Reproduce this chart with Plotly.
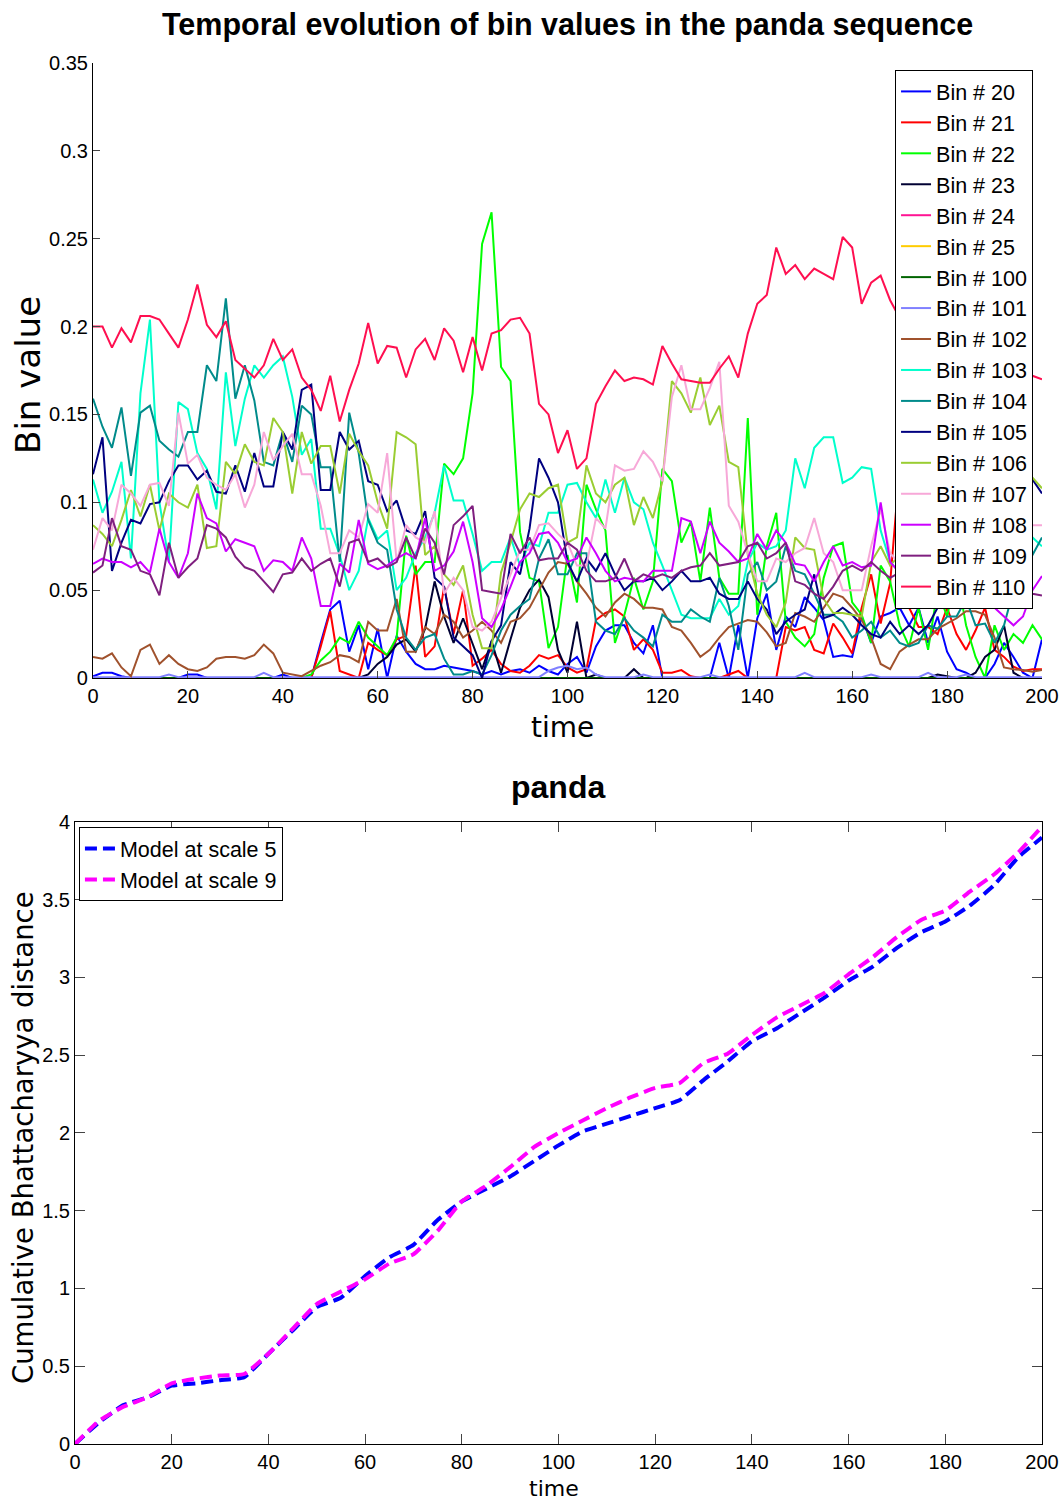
import plotly.graph_objects as go

# ---------------- data: top panel (bin values, sampled every 2 frames) ----------------
TIME = list(range(0, 201, 2))

BIN_LABELS = ["Bin # 20", "Bin # 21", "Bin # 22", "Bin # 23", "Bin # 24", "Bin # 25",
              "Bin # 100", "Bin # 101", "Bin # 102", "Bin # 103", "Bin # 104", "Bin # 105",
              "Bin # 106", "Bin # 107", "Bin # 108", "Bin # 109", "Bin # 110"]

bin_20 = [0.001, 0.003, 0.003, 0.001, 0, 0, 0, 0, 0, 0,
          0.002, 0.002, 0, 0, 0, 0, 0, 0, 0, 0,
          0.002, 0, 0, 0, 0.02, 0.039, 0.044, 0.015, 0.03, 0.005,
          0.028, 0.0, 0.024, 0.015, 0.008, 0.005, 0.005, 0.007, 0.006, 0.005,
          0.004, 0.002, 0.004, 0.002, 0.004, 0.005, 0.003, 0.007, 0.004, 0.002,
          0.008, 0.012, 0.003, 0.018, 0.027, 0.03, 0.03, 0.02, 0.014, 0.03,
          0.0, 0.0, 0.0, 0.0, 0.0, 0.0, 0.02, 0.0, 0.03, 0.0,
          0.034, 0.048, 0.016, 0.035, 0.029, 0.046, 0.04, 0.033, 0.012, 0.013,
          0.012, 0.035, 0.02, 0.035, 0.037, 0.04, 0.03, 0.04, 0.02, 0.035,
          0.015, 0.005, 0.003, 0.0, 0.0, 0.008, 0.02, 0.012, 0.003, 0.0,
          0.022]
bin_21 = [0, 0, 0, 0, 0, 0, 0, 0, 0, 0,
          0, 0, 0, 0, 0, 0, 0, 0, 0, 0,
          0, 0, 0, 0, 0.018, 0.038, 0.004, 0.002, 0.0, 0.02,
          0.016, 0.013, 0.022, 0.024, 0.064, 0.012, 0.018, 0.052, 0.025, 0.05,
          0.007, 0.011, 0.016, 0.008, 0.004, 0.003, 0.007, 0.013, 0.011, 0.013,
          0.006, 0.003, 0.005, 0.033, 0.037, 0.039, 0.035, 0.016, 0.022, 0.016,
          0.003, 0.003, 0.0045, 0.001, 0.0, 0.0, 0.0, 0.002, 0.004, 0.0,
          0.0, 0.0, 0.0, 0.029, 0.027, 0.029, 0.016, 0.014, 0.031, 0.023,
          0.014, 0.04, 0.059, 0.031, 0.054, 0.12, 0.04, 0.029, 0.029, 0.025,
          0.04, 0.025, 0.016, 0.027, 0.04, 0.016, 0.012, 0.0065, 0.004, 0.005,
          0.005]
bin_22 = [0, 0, 0, 0, 0, 0, 0, 0, 0, 0,
          0, 0, 0, 0, 0, 0, 0, 0, 0, 0,
          0, 0, 0, 0.002, 0.01, 0.015, 0.023, 0.02, 0.032, 0.023,
          0.018, 0.013, 0.023, 0.081, 0.059, 0.066, 0.066, 0.122, 0.116, 0.125,
          0.162, 0.247, 0.265, 0.177, 0.169, 0.083, 0.057, 0.055, 0.017, 0.029,
          0.07, 0.043, 0.11, 0.096, 0.084, 0.02, 0.036, 0.057, 0.039, 0.055,
          0.119, 0.112, 0.077, 0.089, 0.055, 0.097, 0.057, 0.048, 0.048, 0.148,
          0.036, 0.075, 0.094, 0.032, 0.023, 0.018, 0.025, 0.057, 0.075, 0.077,
          0.043, 0.036, 0.02, 0.064, 0.055, 0.03, 0.018, 0.04, 0.016, 0.05,
          0.035, 0.06, 0.03, 0.012, 0.0, 0.03, 0.016, 0.025, 0.02, 0.03,
          0.022]
bin_23 = [0, 0, 0, 0, 0, 0, 0, 0, 0, 0,
          0, 0, 0, 0, 0, 0, 0, 0, 0, 0,
          0, 0, 0, 0, 0, 0, 0, 0, 0, 0.002,
          0.008, 0.012, 0.019, 0.022, 0.015, 0.028, 0.055, 0.035, 0.02, 0.034,
          0.019, 0.005, 0.021, 0.003, 0.022, 0.04, 0.05, 0.056, 0.046, 0.016,
          0.003, 0.032, 0.0, 0.002, 0.0, 0.0, 0.0, 0.005, 0.0, 0.0,
          0, 0, 0, 0, 0, 0, 0, 0, 0, 0,
          0, 0, 0, 0, 0, 0, 0, 0, 0, 0,
          0, 0, 0, 0, 0, 0, 0, 0, 0, 0.002,
          0.001, 0.0, 0.0, 0.003, 0.012, 0.016, 0.03, 0.003, 0.0, 0.0,
          0.0]
bin_24 = [0, 0, 0, 0, 0, 0, 0, 0, 0, 0,
          0, 0, 0, 0, 0, 0, 0, 0, 0, 0,
          0, 0, 0, 0, 0, 0, 0, 0, 0, 0,
          0, 0, 0, 0, 0, 0, 0, 0, 0, 0,
          0, 0, 0, 0, 0, 0, 0, 0, 0, 0,
          0, 0, 0, 0, 0, 0, 0, 0, 0, 0,
          0, 0, 0, 0, 0, 0, 0, 0, 0, 0,
          0, 0, 0, 0, 0, 0, 0, 0, 0, 0,
          0, 0, 0, 0, 0, 0, 0, 0, 0, 0,
          0, 0, 0, 0, 0, 0, 0, 0, 0, 0,
          0]
bin_25 = [0, 0, 0, 0, 0, 0, 0, 0, 0, 0,
          0, 0, 0, 0, 0, 0, 0, 0, 0, 0,
          0, 0, 0, 0, 0, 0, 0, 0, 0, 0,
          0, 0, 0, 0, 0, 0, 0, 0, 0, 0,
          0, 0, 0, 0, 0, 0, 0, 0, 0, 0,
          0, 0, 0, 0, 0, 0, 0, 0, 0, 0,
          0, 0, 0, 0, 0, 0, 0, 0, 0, 0,
          0, 0, 0, 0, 0, 0, 0, 0, 0, 0,
          0, 0, 0, 0, 0, 0, 0, 0, 0, 0,
          0, 0, 0, 0, 0, 0, 0, 0, 0, 0,
          0]
bin_100 = [0, 0, 0, 0, 0, 0, 0, 0, 0, 0,
           0, 0, 0, 0, 0, 0, 0, 0, 0, 0,
           0, 0, 0, 0, 0, 0, 0, 0, 0, 0,
           0, 0, 0, 0, 0, 0, 0, 0, 0, 0,
           0, 0, 0, 0, 0, 0, 0, 0, 0, 0,
           0, 0, 0, 0, 0, 0, 0, 0, 0, 0,
           0, 0, 0, 0, 0, 0, 0, 0, 0, 0,
           0, 0, 0, 0, 0, 0, 0, 0, 0, 0,
           0, 0, 0, 0, 0, 0, 0, 0, 0, 0,
           0, 0, 0, 0, 0, 0, 0, 0, 0, 0,
           0]
bin_101 = [0.0005, 0.0005, 0.0005, 0.0005, 0.0005, 0.0005, 0.0005, 0.0005, 0.002, 0.0005,
           0.0005, 0.0005, 0.0005, 0.0005, 0.0005, 0.0005, 0.0005, 0.0005, 0.003, 0.0005,
           0.0005, 0.0005, 0.0005, 0.0005, 0.0005, 0.0005, 0.0005, 0.0005, 0.0005, 0.0005,
           0.0005, 0.0005, 0.0005, 0.0005, 0.0005, 0.0005, 0.0005, 0.0005, 0.0005, 0.0005,
           0.0005, 0.0005, 0.0005, 0.0005, 0.0005, 0.0005, 0.0005, 0.0005, 0.004, 0.006,
           0.007, 0.005, 0.006, 0.002, 0.0005, 0.0005, 0.0005, 0.0005, 0.002, 0.0005,
           0.0005, 0.0005, 0.0005, 0.0005, 0.0005, 0.002, 0.0005, 0.0005, 0.0005, 0.0005,
           0.0005, 0.0005, 0.0005, 0.0005, 0.0005, 0.003, 0.0005, 0.0005, 0.0005, 0.0005,
           0.0005, 0.0005, 0.002, 0.0005, 0.0005, 0.0005, 0.0005, 0.0005, 0.003, 0.0005,
           0.0005, 0.0005, 0.002, 0.0005, 0.0005, 0.0005, 0.0005, 0.0005, 0.0005, 0.0005,
           0.0005]
bin_102 = [0.012, 0.011, 0.014, 0.006, 0.001, 0.016, 0.019, 0.008, 0.013, 0.008,
           0.005, 0.004, 0.006, 0.011, 0.012, 0.012, 0.011, 0.013, 0.019, 0.014,
           0.003, 0.002, 0.001, 0.004, 0.007, 0.009, 0.013, 0.012, 0.009, 0.032,
           0.027, 0.027, 0.045, 0.015, 0.015, 0.029, 0.025, 0.036, 0.032, 0.023,
           0.027, 0.032, 0.027, 0.02, 0.032, 0.034, 0.04, 0.05, 0.06, 0.066,
           0.065, 0.055, 0.048, 0.04, 0.035, 0.043, 0.048, 0.045, 0.04, 0.04,
           0.039, 0.029, 0.027, 0.02, 0.012, 0.016, 0.023, 0.029, 0.031, 0.033,
           0.032, 0.026, 0.018, 0.02, 0.037, 0.035, 0.032, 0.04, 0.048, 0.046,
           0.04, 0.033, 0.023, 0.008, 0.005, 0.015, 0.019, 0.022, 0.022, 0.028,
           0.031, 0.034, 0.038, 0.038, 0.036, 0.023, 0.006, 0.005, 0.0045, 0.0035,
           0.0045]
bin_103 = [0.113, 0.094, 0.106, 0.123, 0.068, 0.162, 0.204, 0.1, 0.066, 0.157,
           0.153, 0.128, 0.119, 0.096, 0.174, 0.132, 0.159, 0.178, 0.171, 0.178,
           0.183, 0.16, 0.127, 0.136, 0.085, 0.085, 0.07, 0.05, 0.061, 0.091,
           0.079, 0.084, 0.05, 0.057, 0.071, 0.08, 0.094, 0.121, 0.101, 0.101,
           0.082, 0.061, 0.066, 0.066, 0.08, 0.064, 0.077, 0.075, 0.094, 0.094,
           0.11, 0.111, 0.1, 0.091, 0.113, 0.094, 0.114, 0.1, 0.096, 0.077,
           0.064, 0.05, 0.036, 0.034, 0.034, 0.034, 0.045, 0.036, 0.041, 0.066,
           0.077, 0.073, 0.075, 0.084, 0.125, 0.108, 0.131, 0.137, 0.137, 0.111,
           0.114, 0.12, 0.119, 0.084, 0.066, 0.06, 0.055, 0.05, 0.06, 0.055,
           0.06, 0.065, 0.07, 0.06, 0.065, 0.07, 0.075, 0.07, 0.075, 0.08,
           0.075]
bin_104 = [0.159, 0.143, 0.131, 0.154, 0.115, 0.151, 0.155, 0.135, 0.13, 0.126,
           0.14, 0.14, 0.178, 0.169, 0.216, 0.159, 0.178, 0.158, 0.123, 0.121,
           0.14, 0.123, 0.155, 0.15, 0.12, 0.12, 0.066, 0.151, 0.128, 0.09,
           0.077, 0.073, 0.039, 0.023, 0.016, 0.023, 0.025, 0.011, 0.002, 0.002,
           0.004, 0.002, 0.013, 0.027, 0.036, 0.041, 0.045, 0.068, 0.079, 0.059,
           0.059, 0.071, 0.071, 0.032, 0.027, 0.025, 0.034, 0.027, 0.023, 0.018,
           0.036, 0.032, 0.032, 0.039, 0.035, 0.032, 0.057, 0.041, 0.016, 0.059,
           0.066, 0.05, 0.055, 0.075, 0.061, 0.059, 0.048, 0.036, 0.036, 0.032,
           0.023, 0.027, 0.032, 0.023, 0.027, 0.02, 0.018, 0.02, 0.03, 0.028,
           0.035, 0.035, 0.045, 0.03, 0.031, 0.02, 0.03, 0.05, 0.06, 0.07,
           0.08]
bin_105 = [0.116, 0.137, 0.061, 0.077, 0.09, 0.088, 0.099, 0.1, 0.112, 0.121,
           0.121, 0.113, 0.118, 0.106, 0.105, 0.121, 0.106, 0.128, 0.109, 0.109,
           0.14, 0.13, 0.164, 0.167, 0.107, 0.107, 0.14, 0.13, 0.135, 0.112,
           0.11, 0.095, 0.101, 0.084, 0.082, 0.095, 0.057, 0.052, 0.023, 0.018,
           0.013, 0.0, 0.021, 0.03, 0.066, 0.059, 0.085, 0.125, 0.114, 0.1,
           0.066, 0.055, 0.068, 0.061, 0.071, 0.059, 0.05, 0.055, 0.055, 0.057,
           0.05, 0.055, 0.061, 0.055, 0.055, 0.057, 0.048, 0.045, 0.045, 0.055,
           0.045, 0.039, 0.025, 0.032, 0.036, 0.039, 0.059, 0.034, 0.036, 0.04,
           0.036, 0.03, 0.025, 0.023, 0.032, 0.025, 0.03, 0.025, 0.03, 0.04,
           0.05, 0.06, 0.07, 0.08, 0.09, 0.1, 0.11, 0.12, 0.118, 0.113,
           0.105]
bin_106 = [0.087, 0.082, 0.075, 0.09, 0.107, 0.092, 0.11, 0.084, 0.105, 0.1,
           0.097, 0.11, 0.074, 0.075, 0.123, 0.116, 0.133, 0.123, 0.121, 0.148,
           0.14, 0.105, 0.14, 0.122, 0.132, 0.132, 0.105, 0.139, 0.129, 0.121,
           0.1, 0.085, 0.14, 0.137, 0.133, 0.07, 0.075, 0.059, 0.053, 0.064,
           0.036, 0.017, 0.017, 0.06, 0.077, 0.096, 0.105, 0.103, 0.108, 0.11,
           0.077, 0.08, 0.121, 0.105, 0.1, 0.11, 0.114, 0.087, 0.103, 0.091,
           0.112, 0.169, 0.162, 0.151, 0.171, 0.144, 0.155, 0.123, 0.12, 0.07,
           0.048, 0.036, 0.029, 0.043, 0.08, 0.074, 0.073, 0.045, 0.037, 0.037,
           0.036, 0.035, 0.066, 0.075, 0.064, 0.07, 0.075, 0.08, 0.07, 0.075,
           0.08, 0.085, 0.09, 0.085, 0.09, 0.095, 0.1, 0.105, 0.11, 0.114,
           0.108]
bin_107 = [0.073, 0.091, 0.084, 0.11, 0.105, 0.098, 0.11, 0.111, 0.098, 0.151,
           0.122, 0.127, 0.114, 0.11, 0.107, 0.116, 0.097, 0.11, 0.14, 0.124,
           0.132, 0.139, 0.116, 0.116, 0.098, 0.071, 0.071, 0.084, 0.08, 0.099,
           0.094, 0.128, 0.066, 0.087, 0.08, 0.077, 0.095, 0.048, 0.057, 0.05,
           0.029, 0.027, 0.032, 0.045, 0.059, 0.073, 0.073, 0.087, 0.088, 0.082,
           0.077, 0.064, 0.064, 0.091, 0.085, 0.121, 0.118, 0.119, 0.129, 0.123,
           0.112, 0.16, 0.178, 0.153, 0.153, 0.165, 0.18, 0.098, 0.089, 0.071,
           0.055, 0.055, 0.068, 0.066, 0.071, 0.074, 0.091, 0.071, 0.066, 0.05,
           0.05, 0.05, 0.075, 0.096, 0.071, 0.065, 0.06, 0.055, 0.05, 0.05,
           0.045, 0.04, 0.045, 0.06, 0.07, 0.075, 0.08, 0.08, 0.085, 0.087,
           0.087]
bin_108 = [0.065, 0.068, 0.066, 0.066, 0.063, 0.066, 0.06, 0.085, 0.066, 0.057,
           0.071, 0.105, 0.091, 0.088, 0.072, 0.079, 0.077, 0.075, 0.061, 0.067,
           0.066, 0.061, 0.08, 0.068, 0.041, 0.041, 0.065, 0.06, 0.09, 0.065,
           0.062, 0.064, 0.068, 0.071, 0.068, 0.091, 0.061, 0.064, 0.072, 0.089,
           0.066, 0.034, 0.029, 0.039, 0.052, 0.066, 0.071, 0.082, 0.083, 0.077,
           0.066, 0.068, 0.08, 0.071, 0.061, 0.055, 0.057, 0.056, 0.055, 0.061,
           0.061, 0.061, 0.091, 0.089, 0.071, 0.089, 0.077, 0.072, 0.066, 0.068,
           0.082, 0.073, 0.084, 0.077, 0.065, 0.064, 0.055, 0.066, 0.075, 0.064,
           0.066, 0.063, 0.064, 0.1, 0.066, 0.06, 0.065, 0.06, 0.065, 0.055,
           0.06, 0.05, 0.055, 0.05, 0.045, 0.04, 0.035, 0.03, 0.035, 0.05,
           0.058]
bin_109 = [0.06, 0.064, 0.091, 0.075, 0.073, 0.061, 0.059, 0.047, 0.077, 0.057,
           0.063, 0.068, 0.087, 0.085, 0.08, 0.069, 0.063, 0.061, 0.055, 0.049,
           0.059, 0.06, 0.068, 0.061, 0.065, 0.068, 0.052, 0.077, 0.079, 0.066,
           0.068, 0.063, 0.066, 0.08, 0.068, 0.085, 0.077, 0.059, 0.087, 0.092,
           0.098, 0.05, 0.049, 0.048, 0.082, 0.071, 0.08, 0.067, 0.068, 0.068,
           0.077, 0.073, 0.061, 0.055, 0.055, 0.057, 0.068, 0.055, 0.059, 0.057,
           0.059, 0.057, 0.061, 0.063, 0.064, 0.071, 0.064, 0.065, 0.066, 0.075,
           0.077, 0.068, 0.071, 0.077, 0.055, 0.053, 0.048, 0.045, 0.052, 0.061,
           0.064, 0.061, 0.066, 0.061, 0.057, 0.06, 0.055, 0.06, 0.058, 0.055,
           0.06, 0.055, 0.052, 0.05, 0.055, 0.05, 0.048, 0.052, 0.05, 0.048,
           0.047]
bin_110 = [0.200, 0.200, 0.188, 0.199, 0.191, 0.206, 0.206, 0.204, 0.196, 0.188,
           0.204, 0.224, 0.201, 0.194, 0.203, 0.181, 0.176, 0.171, 0.178, 0.193,
           0.181, 0.187, 0.171, 0.164, 0.152, 0.172, 0.146, 0.164, 0.179, 0.202,
           0.179, 0.189, 0.188, 0.171, 0.187, 0.193, 0.181, 0.199, 0.192, 0.174,
           0.194, 0.175, 0.196, 0.198, 0.204, 0.205, 0.196, 0.156, 0.150, 0.128,
           0.141, 0.119, 0.125, 0.156, 0.166, 0.175, 0.169, 0.171, 0.170, 0.167,
           0.189, 0.179, 0.170, 0.169, 0.168, 0.168, 0.176, 0.183, 0.171, 0.196,
           0.213, 0.218, 0.245, 0.230, 0.235, 0.227, 0.233, 0.230, 0.227, 0.251,
           0.245, 0.213, 0.225, 0.229, 0.215, 0.205, 0.210, 0.200, 0.195, 0.200,
           0.190, 0.185, 0.190, 0.180, 0.185, 0.178, 0.182, 0.175, 0.178, 0.172,
           0.170]

BIN_SERIES = [bin_20, bin_21, bin_22, bin_23, bin_24, bin_25, bin_100, bin_101, bin_102,
              bin_103, bin_104, bin_105, bin_106, bin_107, bin_108, bin_109, bin_110]

# ---------------- data: bottom panel (cumulative distance, every 5 frames) ----------------
TIME_CUM = list(range(0, 201, 5))
CUM_LABELS = ["Model at scale 5", "Model at scale 9"]
cum_scale5 = [0.0, 0.14, 0.25, 0.30, 0.375, 0.39, 0.41, 0.43, 0.58, 0.73,
              0.88, 0.94, 1.08, 1.20, 1.28, 1.44, 1.56, 1.64, 1.72, 1.82,
              1.92, 2.01, 2.06, 2.11, 2.16, 2.21, 2.34, 2.46, 2.59, 2.67,
              2.77, 2.87, 2.98, 3.07, 3.19, 3.29, 3.36, 3.46, 3.59, 3.77,
              3.90]
cum_scale9 = [0.0, 0.15, 0.24, 0.30, 0.39, 0.42, 0.44, 0.45, 0.58, 0.74,
              0.90, 0.98, 1.06, 1.16, 1.22, 1.37, 1.56, 1.66, 1.78, 1.91,
              2.00, 2.08, 2.16, 2.23, 2.29, 2.32, 2.45, 2.51, 2.63, 2.74,
              2.82, 2.90, 3.02, 3.13, 3.26, 3.37, 3.43, 3.55, 3.66, 3.80,
              3.97]

# ---------------- styles ----------------
BIN_COLORS = ["#0000FF", "#FF0000", "#00FF00", "#000033", "#FF1493", "#FFCC00",
              "#006400", "#8080FF", "#A0522D", "#00FFCC", "#008B8B", "#000080",
              "#9ACD32", "#F7A8D8", "#CC00FF", "#7F1F7F", "#FF0F50"]
CUM_COLORS = ["#0000FF", "#FF00FF"]
FONT = "Liberation Sans, Arial, sans-serif"
WIDE = "DejaVu Sans, Liberation Sans, sans-serif"

fig = go.Figure()
for name, vals, col in zip(BIN_LABELS, BIN_SERIES, BIN_COLORS):
    fig.add_trace(go.Scatter(x=TIME, y=vals, mode="lines", name=name,
                             line=dict(color=col, width=2),
                             xaxis="x", yaxis="y", legend="legend"))
for name, vals, col in zip(CUM_LABELS, [cum_scale5, cum_scale9], CUM_COLORS):
    fig.add_trace(go.Scatter(x=TIME_CUM, y=vals, mode="lines", name=name,
                             line=dict(color=col, width=4, dash="12px,6px",
                                       shape="spline", smoothing=0.4),
                             xaxis="x2", yaxis="y2", legend="legend2"))


def axis_style(ticklen, mirror):
    return dict(showgrid=False, zeroline=False, showline=True, linecolor="black",
                linewidth=1, ticks="inside", ticklen=ticklen, tickcolor="#444444",
                mirror=mirror, automargin=False,
                tickfont=dict(family=FONT, size=20, color="black"))


y1_ticks = [0, 0.05, 0.1, 0.15, 0.2, 0.25, 0.3, 0.35]
y1_text = ["0", "0.05", "0.1", "0.15", "0.2", "0.25", "0.3", "0.35"]
x_ticks = [0, 20, 40, 60, 80, 100, 120, 140, 160, 180, 200]
y2_ticks = [0, 0.5, 1, 1.5, 2, 2.5, 3, 3.5, 4]
y2_text = ["0", "0.5", "1", "1.5", "2", "2.5", "3", "3.5", "4"]

fig.update_layout(
    template="none",
    width=1064, height=1504,
    margin=dict(l=0, r=0, t=0, b=0, pad=0, autoexpand=False),
    paper_bgcolor="white", plot_bgcolor="white",
    font=dict(family=FONT, color="black"),
    showlegend=True,
    xaxis=dict(domain=[0.0874, 0.9793], range=[0, 200], anchor="y",
               tickvals=x_ticks, **axis_style(7, False)),
    yaxis=dict(domain=[0.5492, 0.9581], range=[0, 0.35], anchor="x",
               tickvals=y1_ticks, ticktext=y1_text, **axis_style(7, False)),
    xaxis2=dict(domain=[0.0705, 0.9793], range=[0, 200], anchor="y2",
                tickvals=x_ticks, **axis_style(10, "ticks")),
    yaxis2=dict(domain=[0.0399, 0.4535], range=[0, 4], anchor="x2",
                tickvals=y2_ticks, ticktext=y2_text, **axis_style(10, "ticks")),
    legend=dict(x=0.8412, y=0.9535, xanchor="left", yanchor="top",
                bgcolor="white", bordercolor="black", borderwidth=1,
                font=dict(family=FONT, size=21.5, color="black"), tracegroupgap=0),
    legend2=dict(x=0.0742, y=0.4501, xanchor="left", yanchor="top",
                 bgcolor="white", bordercolor="black", borderwidth=1,
                 font=dict(family=FONT, size=21.5, color="black")),
    annotations=[
        dict(text="<b>Temporal evolution of bin values in the panda sequence</b>",
             xref="paper", yref="paper", x=0.5338, y=0.9834, showarrow=False,
             xanchor="center", yanchor="middle",
             font=dict(family=FONT, size=30.5, color="black")),
        dict(text="<b>panda</b>", xref="paper", yref="paper", x=0.5244, y=0.4767,
             showarrow=False, xanchor="center", yanchor="middle",
             font=dict(family=FONT, size=32, color="black")),
        dict(text="Bin value", xref="paper", yref="paper", x=0.0263, y=0.7507,
             showarrow=False, textangle=-90, xanchor="center", yanchor="middle",
             font=dict(family=WIDE, size=34, color="black")),
        dict(text="time", xref="paper", yref="paper", x=0.5291, y=0.5160,
             showarrow=False, xanchor="center", yanchor="middle",
             font=dict(family=WIDE, size=28, color="black")),
        dict(text="Cumulative Bhattacharyya distance", xref="paper", yref="paper",
             x=0.0216, y=0.244, showarrow=False, textangle=-90,
             xanchor="center", yanchor="middle",
             font=dict(family=WIDE, size=27.5, color="black")),
        dict(text="time", xref="paper", yref="paper", x=0.5207, y=0.0106,
             showarrow=False, xanchor="center", yanchor="middle",
             font=dict(family=WIDE, size=22, color="black")),
    ],
)

# remove the default page margin so the figure fills the window exactly
fig.write_html("out.html",
               config={"displayModeBar": False},
               post_script="document.body.style.margin='0px';"
                           "document.body.style.overflow='hidden';")
